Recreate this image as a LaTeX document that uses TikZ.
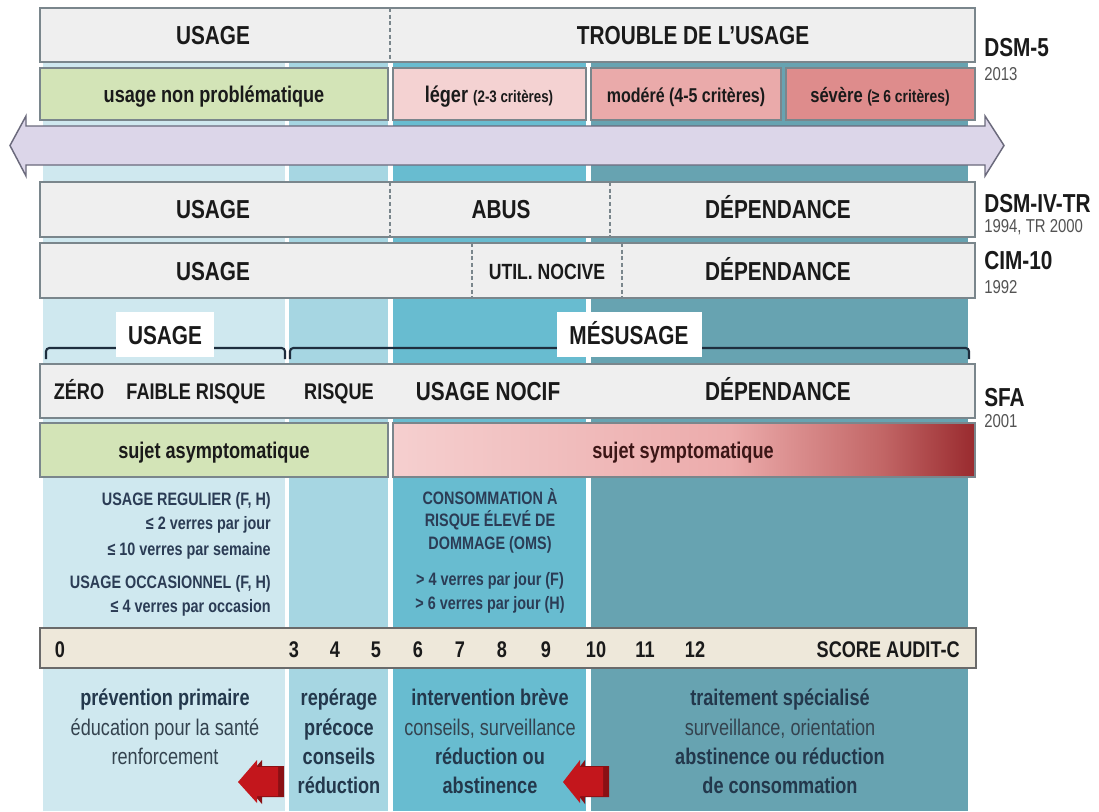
\documentclass[tikz,border=0pt]{standalone}
\usepackage{fontspec}
\setmainfont{Liberation Sans}[FakeStretch=0.8]
\definecolor{rowfill}{HTML}{EFEFEF}
\definecolor{rowline}{HTML}{7A868C}
\definecolor{colA}{HTML}{CFE8EF}
\definecolor{colB}{HTML}{A6D6E2}
\definecolor{colC}{HTML}{68BCD0}
\definecolor{colD}{HTML}{67A3B1}
\definecolor{greenbox}{HTML}{D3E4B7}
\definecolor{pinkA}{HTML}{F4D2D2}
\definecolor{pinkB}{HTML}{EAAAAA}
\definecolor{pinkC}{HTML}{DE8C8C}
\definecolor{lav}{HTML}{DCD6E9}
\definecolor{lavline}{HTML}{6B6A7C}
\definecolor{barfill}{HTML}{EEE8DA}
\definecolor{barline}{HTML}{6A6A6A}
\definecolor{ink}{HTML}{1A1A1A}
\definecolor{navy}{HTML}{2B3C55}
\definecolor{slate}{HTML}{23384C}
\definecolor{slatereg}{HTML}{34434F}
\definecolor{arrred}{HTML}{C3161C}
\definecolor{arrdark}{HTML}{8A1014}
\definecolor{brk}{HTML}{1E2E3E}
\definecolor{sA}{HTML}{F5CFCF}
\definecolor{sB}{HTML}{ECABAB}
\definecolor{sC}{HTML}{C26666}
\definecolor{sD}{HTML}{992A2E}
\pgfdeclarehorizontalshading{symp}{100bp}{color(0bp)=(sA); color(25bp)=(sA); color(54bp)=(sB); color(67bp)=(sC); color(75bp)=(sD); color(100bp)=(sD)}
\begin{document}
\begin{tikzpicture}[x=0.75pt,y=-0.75pt,
  txt/.style={inner sep=0pt, text depth=0pt},
  big/.style={txt, text=ink, text height=14pt, font=\fontsize{19.5}{22}\selectfont\bfseries},
  mid/.style={txt, text=ink, text height=12.2pt, font=\fontsize{17}{20}\selectfont\bfseries},
  midr/.style={txt, text=slatereg, text height=12.2pt, font=\fontsize{17}{20}\selectfont},
  botb/.style={txt, text=slate, text height=12.2pt, font=\fontsize{17}{20}\selectfont\bfseries},
  small/.style={txt, text=navy, text height=9.7pt, font=\fontsize{13.5}{16}\selectfont\bfseries},
  lbl/.style={txt, text=ink, anchor=west, text height=14pt, font=\fontsize{19.5}{22}\selectfont\bfseries},
  yr/.style={txt, text=ink!75, anchor=west, text height=10pt, font=\fontsize{14}{16}\selectfont},
  rowbox/.style={draw=rowline, fill=rowfill, line width=1.3pt},
  divider/.style={draw=rowline, line width=0.9pt, dash pattern=on 3pt off 2pt},
  bracket/.style={draw=brk, line width=1.6pt, rounded corners=2.5pt},
  redarrow/.style={fill=arrred},
  redshadow/.style={fill=arrdark}
]
\useasboundingbox (0,0) rectangle (1099,811);
\fill[white] (0,0) rectangle (1099,811);
% background columns
\fill[colA] (43,63) rectangle (285,811);
\fill[colB] (289,63) rectangle (388,811);
\fill[colC] (393,63) rectangle (586,811);
\fill[colD] (591,63) rectangle (968,811);

% DSM-5 rows
\draw[rowbox] (40,8) rectangle (975,62);
\draw[divider] (390,8) -- (390,62);
\node[big] (u1) at (213,35) {USAGE};
\node[big] (tr) at (693,35) {TROUBLE DE L{\char"27}USAGE};

\draw[draw=rowline, fill=greenbox, line width=1.3pt] (40,68) rectangle (388,120);
\draw[draw=rowline, fill=pinkA, line width=1.3pt] (393,68) rectangle (586,120);
\draw[draw=rowline, fill=pinkB, line width=1.3pt] (591,68) rectangle (781,120);
\draw[draw=rowline, fill=pinkC, line width=1.3pt] (786,68) rectangle (975,120);
\node[mid] (unp) at (214,94) {usage non problématique};
\node[mid] (leg) at (489,94) {léger {\fontsize{12.5}{14}\selectfont (2-3 critères)}};
\node[mid] (mod) at (686,94) {\fontsize{15}{18}\selectfont modéré (4-5 critères)};
\node[mid] (sev) at (880,94) {\fontsize{15.5}{18}\selectfont sévère {\fontsize{13}{14}\selectfont (≥ 6 critères)}};

% big double arrow
\draw[fill=lav, draw=lavline, line width=1.1pt, line join=miter]
  (10,145.5) -- (26,116) -- (26,126) -- (985,126) -- (985,116) -- (1004,145.5)
  -- (985,176) -- (985,165) -- (26,165) -- (26,176) -- cycle;

% DSM-IV-TR
\draw[rowbox] (40,182) rectangle (975,237);
\draw[divider] (390,182) -- (390,237);
\draw[divider] (610,182) -- (610,237);
\node[big] (u2) at (213,209) {USAGE};
\node[big] (abus) at (501,209) {ABUS};
\node[big] (dep1) at (778,209) {DÉPENDANCE};

% CIM-10
\draw[rowbox] (40,243) rectangle (975,298);
\draw[divider] (472,243) -- (472,298);
\draw[divider] (622,243) -- (622,298);
\node[big] (u3) at (213,271) {USAGE};
\node[txt, text=ink, text height=12pt, font=\fontsize{16.5}{20}\selectfont\bfseries] (un) at (547,271) {UTIL. NOCIVE};
\node[big] (dep2) at (778,271) {DÉPENDANCE};

% brackets
\draw[bracket] (46,359) -- (46,348) -- (285,348) -- (285,359);
\draw[bracket] (290,359) -- (290,348) -- (969,348) -- (969,359);
\fill[white] (116,312) rectangle (214,357);
\fill[white] (557,312) rectangle (702,357);
\node[big] (lu) at (165,335) {USAGE};
\node[big] (lm) at (629,335) {MÉSUSAGE};

% SFA row
\draw[rowbox] (40,364) rectangle (975,418);
\node[mid] (zero) at (79,391) {ZÉRO};
\node[mid] (faible) at (196,391) {FAIBLE RISQUE};
\node[mid] (risque) at (339,391) {RISQUE};
\node[big] (nocif) at (488,391) {USAGE NOCIF};
\node[big] (dep3) at (778,391) {DÉPENDANCE};

% sujet row
\draw[draw=rowline, fill=greenbox, line width=1.3pt] (40,423) rectangle (388,477);
\shade[shading=symp] (393,423) rectangle (975,477);
\draw[draw=rowline, line width=1.3pt] (393,423) rectangle (975,477);
\node[mid] (asym) at (214,450) {sujet asymptomatique};
\node[mid, text=ink!85!red] (sym) at (683,450) {sujet symptomatique};

% left text block
\node[small, anchor=east] (l1) at (271,499) {USAGE REGULIER (F, H)};
\node[small, anchor=east] (l2) at (271,523) {≤ 2 verres par jour};
\node[small, anchor=east] (l3) at (271,549) {≤ 10 verres par semaine};
\node[small, anchor=east] (l4) at (271,582) {USAGE OCCASIONNEL (F, H)};
\node[small, anchor=east] (l5) at (271,606) {≤ 4 verres par occasion};

% middle text block
\node[small] (m1) at (490,498) {CONSOMMATION À};
\node[small] (m2) at (490,520) {RISQUE ÉLEVÉ DE};
\node[small] (m3) at (490,543) {DOMMAGE (OMS)};
\node[small] (m4) at (490,579) {> 4 verres par jour (F)};
\node[small] (m5) at (490,603) {> 6 verres par jour (H)};

% score bar
\draw[fill=barfill, draw=barline, line width=1.5pt] (40,628) rectangle (976,668);
\node[mid] (s0) at (60,649) {0};
\node[mid] (s3) at (294,649) {3};
\node[mid] (s4) at (335,649) {4};
\node[mid] (s5) at (376,649) {5};
\node[mid] (s6) at (418,649) {6};
\node[mid] (s7) at (460,649) {7};
\node[mid] (s8) at (502,649) {8};
\node[mid] (s9) at (546,649) {9};
\node[mid] (s10) at (596,649) {10};
\node[mid] (s11) at (645,649) {11};
\node[mid] (s12) at (695,649) {12};
\node[mid, anchor=east] (score) at (960,649) {SCORE AUDIT-C};

% bottom texts
\node[botb] (b1a) at (165,697) {prévention primaire};
\node[midr] (b1b) at (165,727) {éducation pour la santé};
\node[midr] (b1c) at (165,756) {renforcement};
\node[botb] (b2a) at (339,697) {repérage};
\node[botb] (b2b) at (339,727) {précoce};
\node[botb] (b2c) at (339,756) {conseils};
\node[botb] (b2d) at (339,785) {réduction};
\node[botb] (b3a) at (490,697) {intervention brève};
\node[midr] (b3b) at (490,727) {conseils, surveillance};
\node[botb] (b3c) at (490,756) {réduction ou};
\node[botb] (b3d) at (490,785) {abstinence};
\node[botb] (b4a) at (780,697) {traitement spécialisé};
\node[midr] (b4b) at (780,727) {surveillance, orientation};
\node[botb] (b4c) at (780,756) {abstinence ou réduction};
\node[botb] (b4d) at (780,785) {de consommation};

% red arrows
\fill[redshadow] (243,782) -- (262,760) -- (262,766) -- (284,766) -- (284,797) -- (262,797) -- (262,804) -- cycle;
\fill[redarrow] (238,782) -- (257,760) -- (257,767) -- (278,767) -- (278,796) -- (257,796) -- (257,803) -- cycle;
\fill[redshadow] (568,782) -- (585,760) -- (585,766) -- (609,766) -- (609,797) -- (585,797) -- (585,804) -- cycle;
\fill[redarrow] (563,782) -- (580,760) -- (580,767) -- (603,767) -- (603,796) -- (580,796) -- (580,803) -- cycle;

% right labels
\node[lbl] (dsm5) at (984,47) {DSM-5};
\node[yr] (y2013) at (984,74) {2013};
\node[lbl] (dsm4) at (984,203) {DSM-IV-TR};
\node[yr] (y1994) at (984,226) {1994, TR 2000};
\node[lbl] (cim) at (984,260) {CIM-10};
\node[yr] (y1992) at (984,287) {1992};
\node[lbl] (sfa) at (984,397) {SFA};
\node[yr] (y2001) at (984,421) {2001};
\end{tikzpicture}
\end{document}
